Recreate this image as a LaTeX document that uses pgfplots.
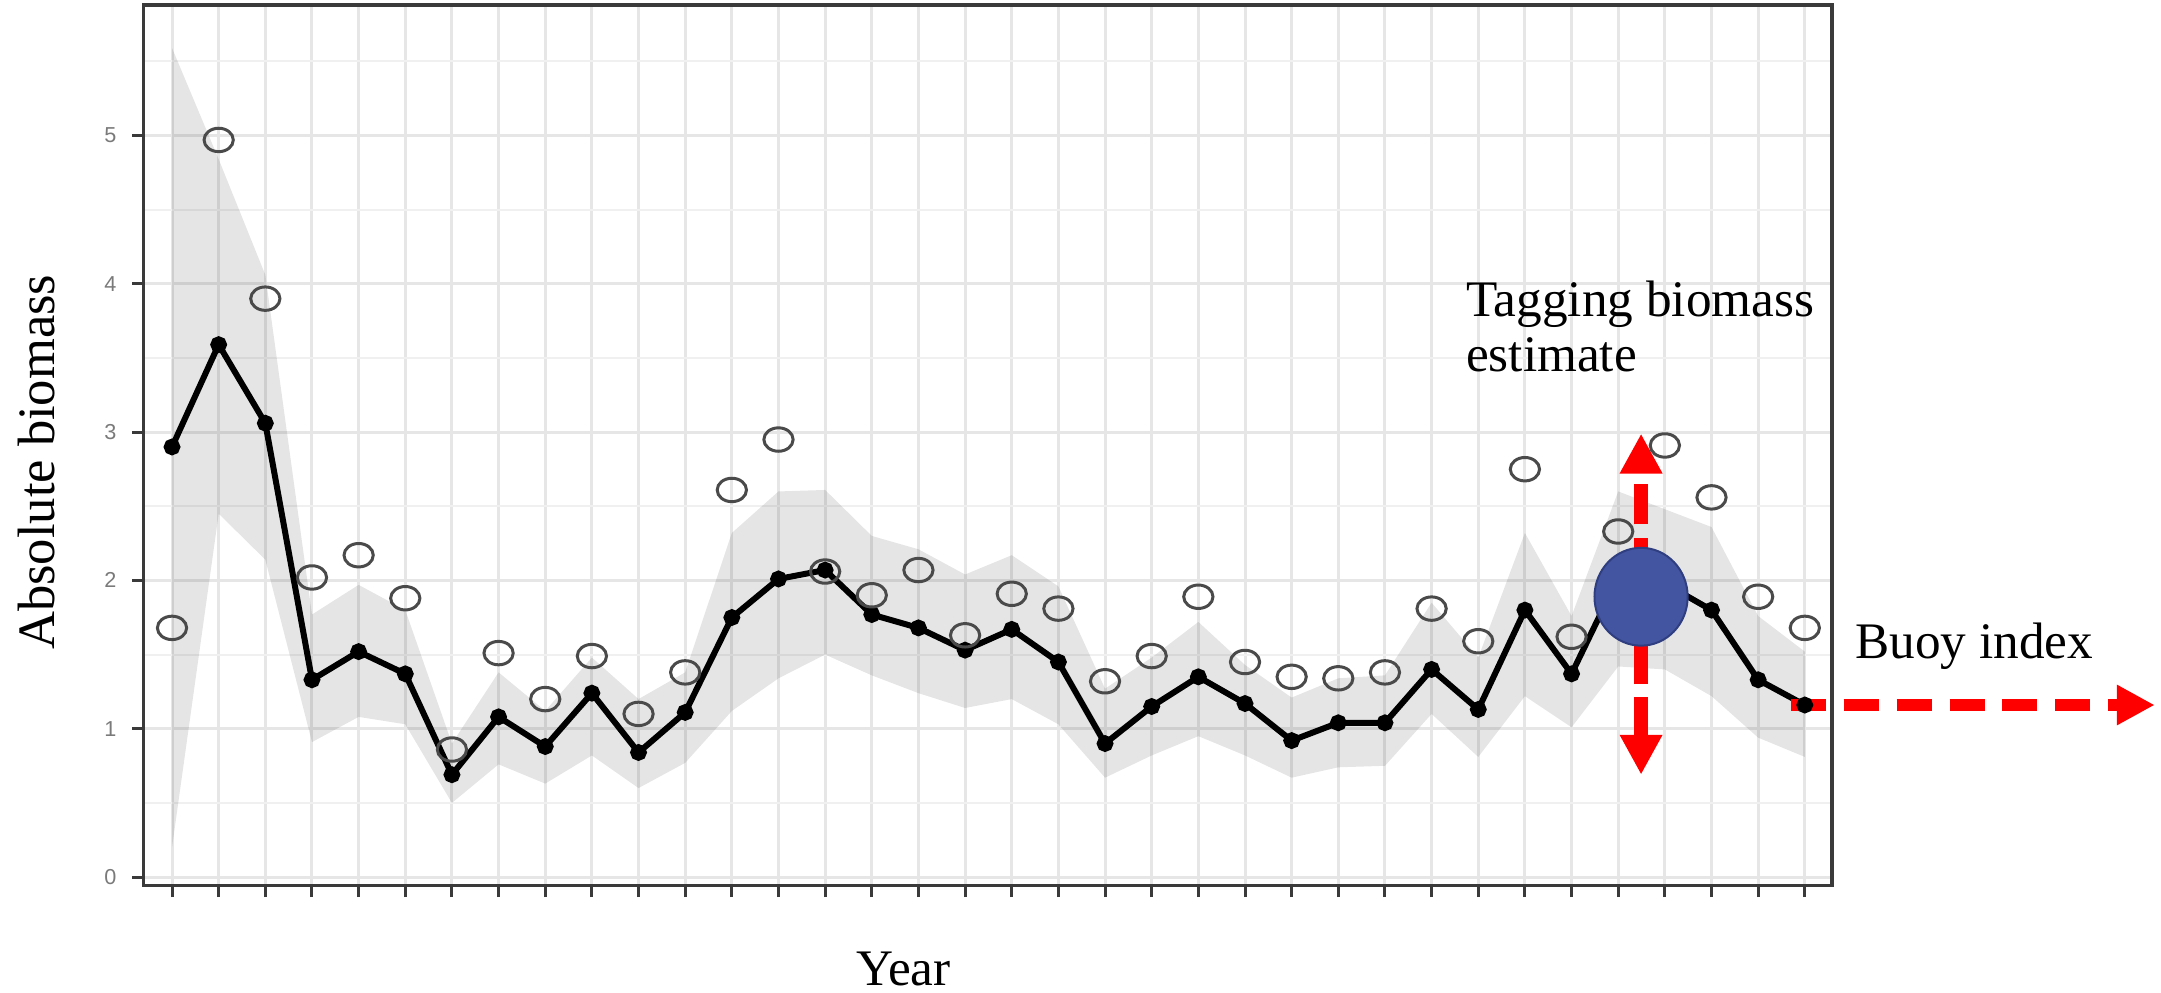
\documentclass[border=0pt]{standalone}
\usepackage{fontspec}
\setmainfont{Liberation Serif}
\setsansfont{Liberation Sans}
\usepackage{pgfplots}
\usepackage{pgfplotstable}
\pgfplotsset{compat=1.18}
\usepgfplotslibrary{fillbetween}
\usetikzlibrary{arrows.meta}
\definecolor{gridc}{HTML}{E6E6E6}
\definecolor{gridm}{HTML}{F0F0F0}
\definecolor{bluec}{HTML}{4355A0}
\definecolor{bluee}{HTML}{2F3E80}
\definecolor{circc}{HTML}{4A4A4A}
\definecolor{tickc}{HTML}{7A7A7A}
\definecolor{framec}{HTML}{3A3A3A}

\pgfplotstableread{
x line obs lo hi
0 2.90 1.68 0.20 5.59
1 3.59 4.97 2.45 4.84
2 3.06 3.90 2.14 4.06
3 1.33 2.02 0.91 1.77
4 1.52 2.17 1.08 1.97
5 1.37 1.88 1.03 1.80
6 0.69 0.86 0.50 0.90
7 1.08 1.51 0.76 1.38
8 0.88 1.20 0.63 1.12
9 1.24 1.49 0.82 1.48
10 0.84 1.10 0.60 1.20
11 1.11 1.38 0.77 1.38
12 1.75 2.61 1.12 2.32
13 2.01 2.95 1.34 2.60
14 2.07 2.06 1.50 2.61
15 1.77 1.90 1.36 2.30
16 1.68 2.07 1.24 2.21
17 1.53 1.63 1.14 2.04
18 1.67 1.91 1.20 2.17
19 1.45 1.81 1.03 1.96
20 0.90 1.32 0.67 1.27
21 1.15 1.49 0.82 1.48
22 1.35 1.89 0.95 1.72
23 1.17 1.45 0.82 1.43
24 0.92 1.35 0.67 1.21
25 1.04 1.34 0.74 1.34
26 1.04 1.38 0.75 1.36
27 1.40 1.81 1.10 1.85
28 1.13 1.59 0.81 1.48
29 1.80 2.75 1.22 2.32
30 1.37 1.62 1.01 1.76
31 2.02 2.33 1.42 2.60
32 1.98 2.91 1.40 2.48
33 1.80 2.56 1.22 2.36
34 1.33 1.89 0.94 1.76
35 1.16 1.68 0.81 1.52
}\data

\begin{document}
\begin{tikzpicture}
\begin{axis}[
  at={(0pt,0pt)}, anchor=south west,
  scale only axis, width=507.3pt, height=264.6pt,
  xmin=-0.606, xmax=35.58, ymin=-0.057, ymax=5.88,
  xtick={0,...,35}, xticklabels={},
  ytick={0,1,2,3,4,5},
  minor ytick={0.5,1.5,2.5,3.5,4.5,5.5},
  tick pos=left,
  tick align=outside, major tick length=3.5pt, minor tick length=0pt,
  tick style={framec, line width=0.9pt},
  xmajorgrids, ymajorgrids, yminorgrids,
  major grid style={gridc, line width=0.9pt},
  minor grid style={gridm, line width=0.6pt},
  axis line style={framec, line width=1pt},
  /pgf/number format/assume math mode=true,
  yticklabel style={font=\sffamily\fontsize{6.5}{7}\selectfont, text=tickc, anchor=east, inner sep=0pt, xshift=-4.5pt},
  clip=false,
]
\addplot[name path=hi, draw=none] table[x=x, y=hi]{\data};
\addplot[name path=lo, draw=none] table[x=x, y=lo]{\data};
\addplot[black, fill opacity=0.1, draw=none] fill between[of=hi and lo];
\addplot[black, line width=1.8pt, mark=*, mark size=1.6pt] table[x=x, y=line]{\data};
\addplot[only marks, mark=o, mark size=4.4pt, mark options={circc, line width=0.9pt, yscale=0.8}] table[x=x, y=obs]{\data};
\addplot[only marks, mark=*, mark size=14pt, mark options={fill=bluec, draw=bluee, line width=0.6pt, yscale=1.05}] coordinates {(31.49,1.89)};
\addplot[red, line width=4pt, dash pattern=on 12pt off 4pt, {Triangle[length=12pt,width=12pt]}-{Triangle[length=12pt,width=12pt]}] coordinates {(31.49,0.69) (31.49,2.99)};
\addplot[red, line width=3.8pt, dash pattern=on 10.5pt off 5.4pt, -{Triangle[length=11.4pt,width=11.4pt]}] coordinates {(34.7,1.16) (42.5,1.16)};
\end{axis}
\node[font=\fontsize{15.8}{16}\selectfont, rotate=90, anchor=base, inner sep=0pt] at (-26.7pt,127.2pt) {Absolute biomass};
\node[font=\fontsize{15.4}{16}\selectfont, anchor=base, inner sep=0pt] at (228.3pt,-30pt) {Year};
\node[font=\fontsize{15.4}{16}\selectfont, anchor=base west, inner sep=0pt] at (397.2pt,171pt) {Tagging biomass};
\node[font=\fontsize{15.4}{16}\selectfont, anchor=base west, inner sep=0pt] at (397.2pt,154.5pt) {estimate};
\node[font=\fontsize{15.4}{16}\selectfont, anchor=base west, inner sep=0pt] at (514.2pt,68.1pt) {Buoy index};
\path (-43.2pt,-32.1pt) rectangle (605.1pt,266.1pt);
\end{tikzpicture}
\end{document}
